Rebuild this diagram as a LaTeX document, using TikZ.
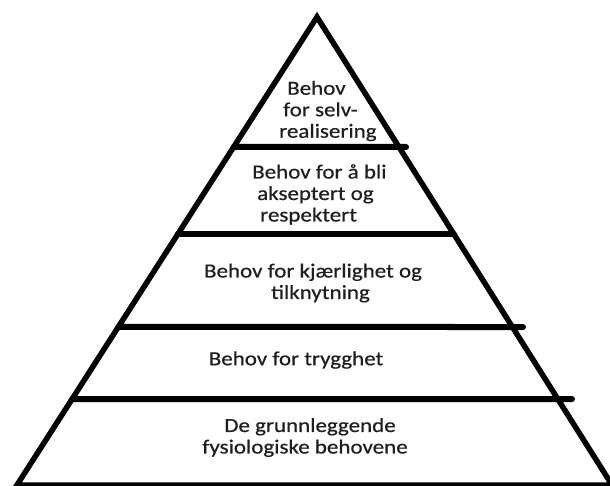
\documentclass[tikz,border=0pt]{standalone}
\usepackage{fontspec}
\setmainfont{Carlito}[FakeStretch=1.15,FakeBold=0.6]
\usetikzlibrary{calc}
\tikzset{
  edge/.style={line width=5.5pt, line join=miter, black},
  tier/.style={line width=6pt, line cap=round, black},
  label/.style={font=\fontsize{20pt}{21.5pt}\selectfont, text=black!88, inner sep=0pt},
}
\begin{document}
\begin{tikzpicture}[x=1pt,y=-1pt]
\useasboundingbox[fill=white] (0,0) rectangle (610,486);
\coordinate (apex) at (317,17);
\coordinate (bl) at (17,485);
\coordinate (br) at (612,485);
% left ends of the tier lines on the left edge
\coordinate (l1) at ($(apex)!{(147-17)/468}!(bl)$);
\coordinate (l2) at ($(apex)!{(234-17)/468}!(bl)$);
\coordinate (l3) at ($(apex)!{(327-17)/468}!(bl)$);
\coordinate (l4) at ($(apex)!{(399-17)/468}!(bl)$);
% right ends
\coordinate (r1) at (406,147);
\coordinate (r2) at ($(apex)!{(234-17)/468}!(br)$);
\coordinate (r3) at (523,327);
\coordinate (r4) at (572,399);
\draw[edge] (apex) -- (bl) -- (br) -- cycle;
\draw[tier] (l1) -- (r1);
\draw[tier] (l2) -- (r2);
\draw[tier] (l3) -- (r3);
\draw[tier] (l4) -- (r4);
\node[label, align=left, anchor=west] (t1) at (279,111)
  {\hspace*{8pt}Behov\\\hspace*{4pt}for selv-\\realisering};
\node[label, align=left, anchor=west] (t2) at (252,194.5)
  {Behov for å bli\\\hspace*{5pt}akseptert og\\\hspace*{8pt}respektert};
\node[label, align=center] (t3) at (313,283)
  {Behov for kjærlighet og\\\hspace*{15pt}tilknytning};
\node[label] (t4) at (296,360) {Behov for trygghet};
\node[label, align=center] (t5) at (305,437.5)
  {\hspace*{10pt}De grunnleggende\\fysiologiske behovene};
\end{tikzpicture}
\end{document}
